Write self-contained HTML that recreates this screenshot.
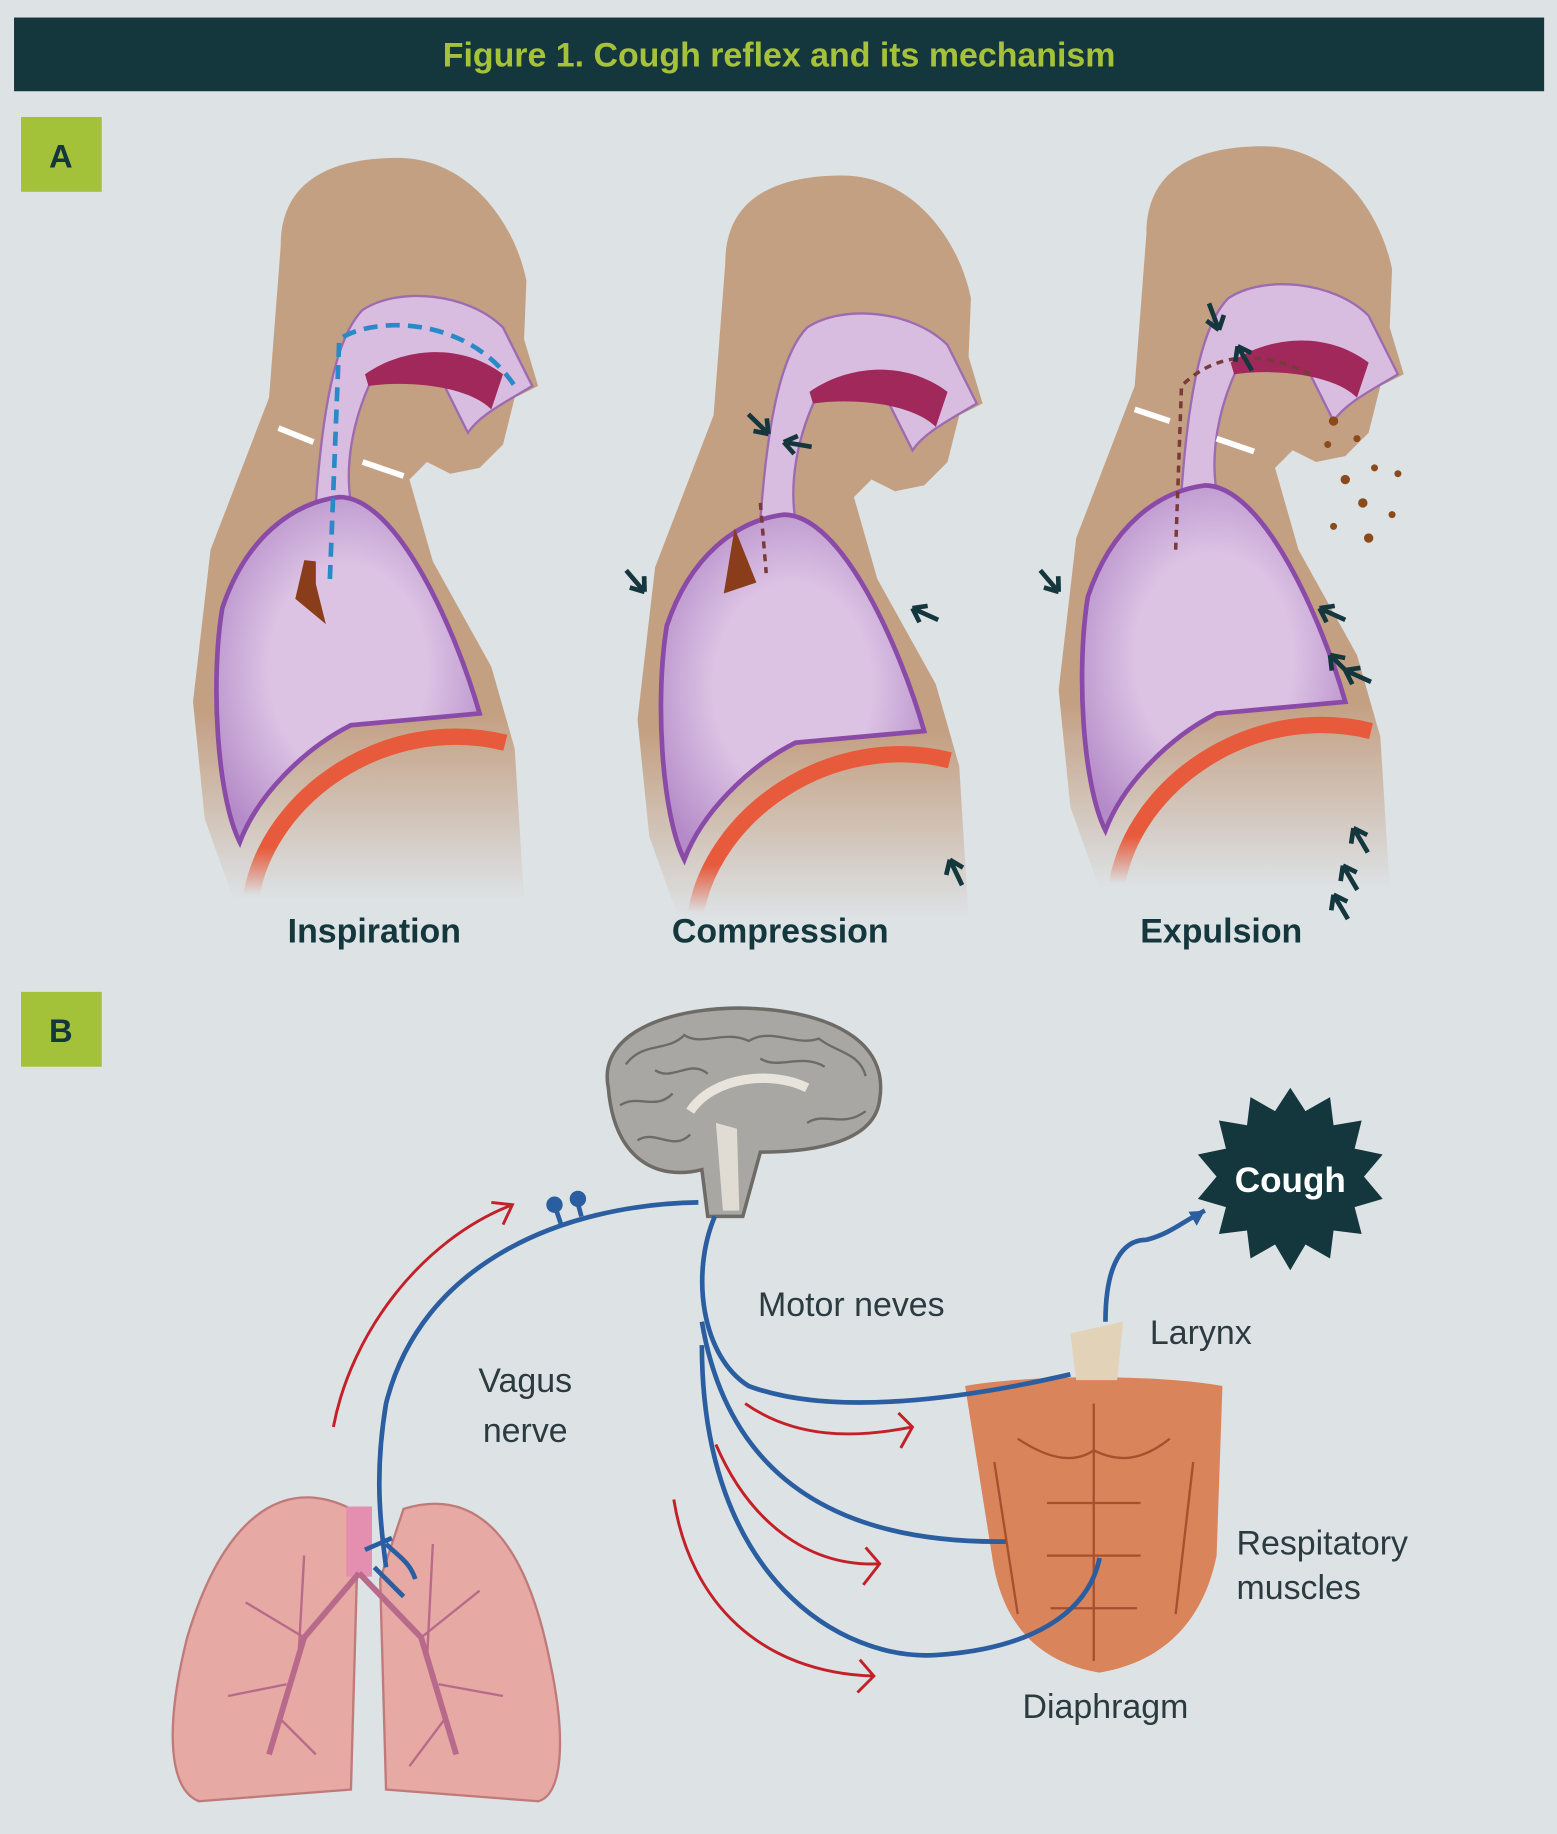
<!DOCTYPE html>
<html><head><meta charset="utf-8"><style>
html,body{margin:0;padding:0;background:#dde2e5;}
svg{display:block}
text{font-family:"Liberation Sans",sans-serif}
</style></head><body>
<svg width="1557" height="1834" viewBox="0 0 1331 1568" preserveAspectRatio="none" xmlns="http://www.w3.org/2000/svg">
<defs>
<linearGradient id="fade" x1="0" y1="0" x2="0" y2="1">
<stop offset="0.75" stop-color="#c4a083"/><stop offset="1" stop-color="#c4a083" stop-opacity="0"/></linearGradient>
<linearGradient id="redfade" x1="0" y1="0" x2="0" y2="1">
<stop offset="0.7" stop-color="#e85a3c"/><stop offset="1" stop-color="#e85a3c" stop-opacity="0"/></linearGradient>
<radialGradient id="lung" cx="0.5" cy="0.5" r="0.6"><stop offset="0.5" stop-color="#dcc3e4"/><stop offset="1" stop-color="#b48ac8"/></radialGradient>
<g id="body">
<path d="M240,210 C240,150 290,135 340,135 C400,135 440,190 450,240 L448,290 L460,330 L440,340 L430,380 L410,400 L385,405 L365,395 L350,410 L370,480 L420,570 L440,640 L448,770 L200,770 L175,700 L165,600 L180,470 L230,340 Z" fill="url(#fade)"/>
<path d="M270,430 C275,360 285,290 310,265 C340,245 400,250 430,280 L455,330 C430,345 410,355 400,370 L380,330 L320,320 C300,360 295,400 300,430 Z" fill="#d9bde0" stroke="#9c6bb0" stroke-width="2"/>
<path d="M312,320 C340,300 390,290 430,320 L420,350 C400,330 350,325 315,330 Z" fill="#a0285a"/>
<path d="M190,520 C210,460 250,430 290,425 C340,425 390,540 410,610 L300,620 C260,640 220,680 205,720 C185,680 180,580 190,520 Z" fill="url(#lung)" stroke="#8a4aa8" stroke-width="4"/>
<path d="M215,765 C230,680 330,610 432,635" fill="none" stroke="url(#redfade)" stroke-width="14"/>
</g>
<g id="ar"><path d="M0,0 L-22,-10 M0,0 L-6,-12 M0,0 L-13,2" stroke="#14373d" stroke-width="4" fill="none"/></g>
</defs>
<rect x="12" y="15" width="1308" height="63" fill="#14373d"/>
<text x="666" y="57" text-anchor="middle" font-size="29" font-weight="bold" fill="#a5c23a">Figure 1. Cough reflex and its mechanism</text>
<rect x="18" y="100" width="69" height="64" fill="#a3c23a"/>
<text x="52" y="143" text-anchor="middle" font-size="28" font-weight="bold" fill="#14373d">A</text>
<use href="#body"/>
<path d="M282,495 L290,290 C320,270 400,270 440,330" fill="none" stroke="#2a8ac8" stroke-width="4" stroke-dasharray="12,7"/>
<path d="M265,480 L258,510 L270,520 L265,500 Z" fill="#8a3d1a" stroke="#8a3d1a" stroke-width="10"/>
<path d="M268,378 L238,366 M310,395 L345,407" stroke="#fff" stroke-width="5"/>
<g transform="translate(380,15)"><use href="#body"/></g>
<path d="M650,430 L655,490" stroke="#7a3a3a" stroke-width="3" stroke-dasharray="6,5"/>
<path d="M630,470 L625,500 L640,495 Z" fill="#8a3d1a" stroke="#8a3d1a" stroke-width="10"/>
<use href="#ar" transform="translate(657,371) rotate(20)"/>
<use href="#ar" transform="translate(670,378) rotate(165)"/>
<use href="#ar" transform="translate(551,506) rotate(25)"/>
<use href="#ar" transform="translate(780,520) rotate(180)"/>
<use href="#ar" transform="translate(812,735) rotate(220)"/>
<g transform="translate(740,-10)"><use href="#body"/></g>
<path d="M1005,470 L1010,330 C1040,300 1080,300 1120,320" fill="none" stroke="#7a3a3a" stroke-width="3" stroke-dasharray="6,5"/>
<path d="M1000,360 L970,350 M1040,375 L1072,386" stroke="#fff" stroke-width="5"/>
<g fill="#8a4a1a"><circle cx="1140" cy="360" r="4"/><circle cx="1160" cy="375" r="3"/><circle cx="1150" cy="410" r="4"/><circle cx="1175" cy="400" r="3"/><circle cx="1165" cy="430" r="4"/><circle cx="1190" cy="440" r="3"/><circle cx="1140" cy="450" r="3"/><circle cx="1170" cy="460" r="4"/><circle cx="1135" cy="380" r="3"/><circle cx="1195" cy="405" r="3"/></g>
<use href="#ar" transform="translate(1042,282) rotate(45)"/>
<use href="#ar" transform="translate(1058,296) rotate(215)"/>
<use href="#ar" transform="translate(905,506) rotate(25)"/>
<use href="#ar" transform="translate(1128,520) rotate(180)"/>
<use href="#ar" transform="translate(1137,560) rotate(200)"/>
<use href="#ar" transform="translate(1150,573) rotate(180)"/>
<use href="#ar" transform="translate(1157,708) rotate(215)"/>
<use href="#ar" transform="translate(1148,740) rotate(215)"/>
<use href="#ar" transform="translate(1140,765) rotate(215)"/>
<text x="320" y="806" text-anchor="middle" font-size="29" font-weight="bold" fill="#14373d">Inspiration</text>
<text x="667" y="806" text-anchor="middle" font-size="29" font-weight="bold" fill="#14373d">Compression</text>
<text x="1044" y="806" text-anchor="middle" font-size="29" font-weight="bold" fill="#14373d">Expulsion</text>
<rect x="18" y="848" width="69" height="64" fill="#a3c23a"/>
<text x="52" y="891" text-anchor="middle" font-size="28" font-weight="bold" fill="#14373d">B</text>
<!-- brain -->
<path d="M520,930 C510,880 580,860 640,862 C710,865 760,890 752,940 C748,975 700,985 650,985 L635,1040 L605,1040 L600,1000 C560,1010 525,990 520,930 Z" fill="#a9a7a3" stroke="#6e6b67" stroke-width="3"/>
<g fill="none" stroke="#6e6b67" stroke-width="2">
<path d="M535,910 C550,890 570,900 585,885 C600,895 620,880 640,890 C660,878 680,895 700,888 C715,900 735,900 740,920"/>
<path d="M530,945 C545,935 560,950 575,935 M545,975 C560,965 575,985 590,970 M690,960 C705,950 720,965 740,950"/>
<path d="M560,915 C575,925 590,905 605,918 M650,905 C665,915 685,900 705,912"/>
</g>
<path d="M590,950 C610,920 660,915 690,930" fill="none" stroke="#e8e4dc" stroke-width="8"/>
<path d="M612,960 L618,1035 L632,1035 L630,965 Z" fill="#e0dcd4"/>
<!-- cough star -->
<polygon points="1103,930 1116,950 1137,938 1140,962 1164,958 1158,982 1182,987 1166,1006 1182,1025 1158,1032 1164,1055 1140,1052 1137,1076 1116,1064 1103,1086 1090,1064 1069,1076 1066,1052 1042,1055 1048,1032 1024,1025 1040,1006 1024,987 1048,982 1042,958 1066,962 1069,938 1090,950" fill="#14373d"/>
<text x="1103" y="1019" text-anchor="middle" font-size="30" font-weight="bold" fill="#fff">Cough</text>
<!-- torso -->
<path d="M825,1185 C880,1175 990,1175 1045,1185 L1040,1330 C1030,1380 1000,1420 940,1430 C880,1420 855,1380 848,1330 Z" fill="#d9845a"/>
<g fill="none" stroke="#a8502e" stroke-width="2">
<path d="M935,1200 L935,1420 M870,1230 C900,1250 920,1250 935,1240 M1000,1230 C975,1250 955,1250 935,1240"/>
<path d="M895,1285 L975,1285 M895,1330 L975,1330 M898,1375 L972,1375 M850,1250 L870,1380 M1020,1250 L1005,1380"/>
</g>
<path d="M915,1140 L960,1130 L955,1180 L920,1180 Z" fill="#e2d2b8"/>
<!-- lungs -->
<path d="M300,1290 C240,1260 190,1300 160,1400 C140,1480 145,1530 170,1540 L300,1530 L305,1350 Z" fill="#e6a9a4" stroke="#c07a7a" stroke-width="2"/>
<path d="M345,1290 C410,1270 450,1320 470,1420 C485,1490 480,1535 460,1540 L330,1530 L325,1350 Z" fill="#e6a9a4" stroke="#c07a7a" stroke-width="2"/>
<rect x="296" y="1288" width="22" height="60" fill="#e58fb0"/>
<path d="M307,1345 L260,1400 L230,1500 M307,1345 L360,1400 L390,1500" stroke="#b86a8a" stroke-width="5" fill="none"/>
<g stroke="#b86a8a" stroke-width="2" fill="none">
<path d="M260,1400 L210,1370 M245,1440 L195,1450 M240,1470 L270,1500 M255,1420 L260,1330 M360,1400 L410,1360 M375,1440 L430,1450 M380,1470 L350,1510 M365,1420 L370,1320"/>
</g>
<!-- nerves -->
<g fill="none" stroke="#2a5ea0" stroke-width="4">
<path d="M597,1028 C480,1030 360,1080 330,1200 C320,1260 325,1300 330,1340"/>
<path d="M611,1040 C590,1090 600,1160 640,1185 C720,1215 850,1190 915,1175"/>
<path d="M600,1130 C620,1250 700,1320 860,1318"/>
<path d="M600,1150 C600,1350 720,1420 800,1415 C880,1410 930,1380 940,1332"/>
<path d="M945,1130 C945,1080 960,1060 980,1060 C1000,1055 1010,1045 1030,1035"/>
<path d="M480,1048 L474,1030 M497,1040 L493,1025"/>
<path d="M330,1320 C340,1330 350,1335 355,1350 M320,1340 L345,1365 M312,1325 L335,1315"/>
</g>
<path d="M1030,1035 L1016,1036 L1023,1048 Z" fill="#2a5ea0"/>
<circle cx="474" cy="1030" r="7" fill="#2a5ea0"/><circle cx="494" cy="1025" r="7" fill="#2a5ea0"/>
<!-- red arrows -->
<g fill="none" stroke="#c42027" stroke-width="2.5">
<path d="M285,1220 C300,1140 360,1060 438,1030 M420,1028 L438,1030 L430,1047"/>
<path d="M637,1200 C680,1230 730,1230 780,1220 M768,1208 L780,1220 L770,1238"/>
<path d="M612,1235 C640,1300 690,1340 752,1337 M740,1323 L752,1337 L738,1355"/>
<path d="M576,1282 C590,1370 650,1430 747,1433 M735,1419 L747,1433 L733,1447"/>
</g>
<g font-size="29" fill="#2b3b3f">
<text x="648" y="1125">Motor neves</text>
<text x="983" y="1149">Larynx</text>
<text x="449" y="1190" text-anchor="middle">Vagus</text>
<text x="449" y="1233" text-anchor="middle">nerve</text>
<text x="1057" y="1329">Respitatory</text>
<text x="1057" y="1367">muscles</text>
<text x="945" y="1469" text-anchor="middle">Diaphragm</text>
</g>
</svg>
</body></html>
